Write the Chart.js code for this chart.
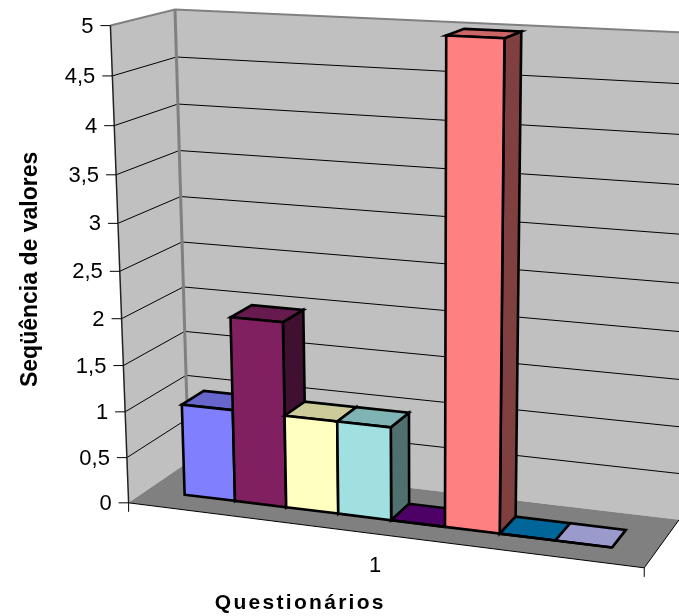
<!DOCTYPE html>
<html><head><meta charset="utf-8">
<script src="https://cdn.jsdelivr.net/npm/chart.js@4"></script>
<style>html,body{margin:0;padding:0;background:#fff}canvas{display:block}</style>
</head><body><canvas id="c" width="679" height="616"></canvas>
<script>
const categories = ['1'];
const seriesNames = ['Série1','Série2','Série3','Série4','Série5','Série6','Série7','Série8'];
const seriesValues = [1, 2, 1, 1, 0, 5, 0, 0];
const seriesColors = ['#8080FF','#802060','#FFFFC0','#A0E0E0','#600080','#FF8080','#0080C0','#C0C0FF'];
const yMax = 5, yStep = 0.5;
const xTitle = 'Questionários', yTitle = 'Seqüência de valores';

// camera calibration: model corner (X,Y,Z) -> picture position
const calib = [
 [0,0,0,128.3,502.3],[1,0,0,644.3,568.3],[0,1,0,110.7,25.7],[0,0,1,189,462.4],
 [1,0,1,679,519.3],[0,1,1,174.7,9.3],[1,1,1,695,33]
];
const Z0 = 0.30, Z1 = 0.67;
function solveCamera(pts){
  const A=[],b=[];
  for(const [X,Y,Z,u,v] of pts){
    A.push([X,Y,Z,1,0,0,0,0,-u*X,-u*Y,-u*Z]);b.push(u);
    A.push([0,0,0,0,X,Y,Z,1,-v*X,-v*Y,-v*Z]);b.push(v);
  }
  const n=11,M=[];
  for(let i=0;i<n;i++){M.push(new Array(n+1).fill(0));
    for(let j=0;j<n;j++)for(let k=0;k<A.length;k++)M[i][j]+=A[k][i]*A[k][j];
    for(let k=0;k<A.length;k++)M[i][n]+=A[k][i]*b[k];}
  for(let i=0;i<n;i++){let p=i;for(let r=i+1;r<n;r++)if(Math.abs(M[r][i])>Math.abs(M[p][i]))p=r;
    [M[i],M[p]]=[M[p],M[i]];
    for(let r=0;r<n;r++)if(r!==i){const f=M[r][i]/M[i][i];for(let c=i;c<=n;c++)M[r][c]-=f*M[i][c];}}
  return M.map((r,i)=>r[n]/r[i]);
}
const P=solveCamera(calib);
function proj(X,Y,Z){const w=P[8]*X+P[9]*Y+P[10]*Z+1;
  return [(P[0]*X+P[1]*Y+P[2]*Z+P[3])/w,(P[4]*X+P[5]*Y+P[6]*Z+P[7])/w];}
function shade(hex,f){const n=parseInt(hex.slice(1),16);
  return 'rgb('+[n>>16&255,n>>8&255,n&255].map(c=>Math.round(c*f)).join(',')+')';}
function poly(ctx,pts,fill,stroke,lw){ctx.beginPath();pts.forEach((p,i)=>i?ctx.lineTo(p[0],p[1]):ctx.moveTo(p[0],p[1]));
  ctx.closePath();if(fill){ctx.fillStyle=fill;ctx.fill();}if(stroke){ctx.strokeStyle=stroke;ctx.lineWidth=lw;ctx.lineJoin='miter';ctx.stroke();}}
function line(ctx,pts,col,lw){ctx.beginPath();pts.forEach((p,i)=>i?ctx.lineTo(p[0],p[1]):ctx.moveTo(p[0],p[1]));
  ctx.strokeStyle=col;ctx.lineWidth=lw;ctx.stroke();}

const threeD={id:'threeD',
  beforeDraw(chart){
    const s=chart.scales.x,ctx=chart.ctx;
    if(!s._wrapped){const o=s.drawTitle;s.drawTitle=function(){ctx.save();ctx.letterSpacing='2.3px';o.call(this);ctx.restore();};s._wrapped=true;}
  },
  beforeDatasetsDraw(chart){
    const ctx=chart.ctx,y=chart.scales.y,a=chart.chartArea;
    const Yof=v=>(a.bottom-y.getPixelForValue(v))/a.height;
    ctx.save();
    poly(ctx,[proj(0,0,0),proj(0,0,1),proj(0,1,1),proj(0,1,0)],'#C0C0C0');
    poly(ctx,[proj(0,0,1),proj(1,0,1),proj(1,1,1),proj(0,1,1)],'#C0C0C0');
    poly(ctx,[proj(0,0,0),proj(1,0,0),proj(1,0,1),proj(0,0,1)],'#808080');
    y.ticks.forEach(t=>{const Y=Yof(t.value);
      if(t.value>0&&t.value<yMax) line(ctx,[proj(0,Y,0),proj(0,Y,1),proj(1,Y,1)],'#000',1);
    });
    line(ctx,[proj(0,1,0),proj(0,1,1),proj(1,1,1)],'#808080',2);
    line(ctx,[proj(0,1,1),proj(0,0,1)],'#808080',3);
    line(ctx,[proj(0,1,0),proj(0,0,0)],'#222',1.5);
    line(ctx,[proj(0,0,0),proj(1,0,0),proj(1,0,1)],'#000',1);
    ctx.font='22px "Liberation Sans"';ctx.fillStyle='#000';ctx.textAlign='right';ctx.textBaseline='middle';
    y.ticks.forEach(t=>{const p=proj(0,Yof(t.value),0);
      line(ctx,[[p[0]-10,p[1]],[p[0],p[1]]],'#000',1);
      ctx.fillText(t.label,p[0]-17,p[1]+1);
    });
    const p0=proj(0,0,0),p1=proj(1,0,0);
    line(ctx,[p0,[p0[0],p0[1]+9]],'#000',1);
    line(ctx,[p1,[p1[0],p1[1]+9]],'#000',1);
    const x=chart.scales.x;
    const lab=proj((x.getPixelForTick(0)-a.left)/a.width,0,0);
    ctx.textAlign='center';ctx.fillText(x.getLabelForValue(0),lab[0]-1,lab[1]+32);
    ctx.restore();
  },
  beforeDatasetDraw(){return false;},
  afterDatasetsDraw(chart){
    const ctx=chart.ctx,a=chart.chartArea;
    ctx.save();
    chart.data.datasets.forEach((d,i)=>{
      const el=chart.getDatasetMeta(i).data[0];
      const X0=(el.x-el.width/2-a.left)/a.width,X1=(el.x+el.width/2-a.left)/a.width;
      const Y0=(a.bottom-el.base)/a.height,Y1=(a.bottom-el.y)/a.height;
      const col=d.backgroundColor,lw=2.6;
      poly(ctx,[proj(X1,Y0,Z0),proj(X1,Y0,Z1),proj(X1,Y1,Z1),proj(X1,Y1,Z0)],shade(col,.5),'#000',lw);
      poly(ctx,[proj(X0,Y1,Z0),proj(X1,Y1,Z0),proj(X1,Y1,Z1),proj(X0,Y1,Z1)],shade(col,.8),'#000',lw);
      poly(ctx,[proj(X0,Y0,Z0),proj(X1,Y0,Z0),proj(X1,Y1,Z0),proj(X0,Y1,Z0)],col,'#000',lw);
    });
    ctx.restore();
  }
};
new Chart(document.getElementById('c'),{
  type:'bar',
  data:{labels:categories,datasets:seriesValues.map((v,i)=>({label:seriesNames[i],data:[v],backgroundColor:seriesColors[i]}))},
  plugins:[threeD],
  options:{responsive:false,animation:false,
    layout:{padding:{left:17,right:131,top:0,bottom:0}},
    plugins:{legend:{display:false},tooltip:{enabled:false}},
    datasets:{bar:{barPercentage:1,categoryPercentage:0.842}},
    scales:{
      x:{grid:{display:false},border:{display:false},ticks:{display:false},
         title:{display:true,text:xTitle,color:'#000',font:{family:'Liberation Sans',size:21,weight:'bold'},padding:{top:44,bottom:0}}},
      y:{min:0,max:yMax,grid:{display:false},border:{display:false},
         ticks:{display:false,stepSize:yStep,callback:v=>String(v).replace('.',',')},
         title:{display:true,text:yTitle,color:'#000',font:{family:'Liberation Sans',size:23,weight:'bold'},padding:0}}
    }
  }
});
</script></body></html>
